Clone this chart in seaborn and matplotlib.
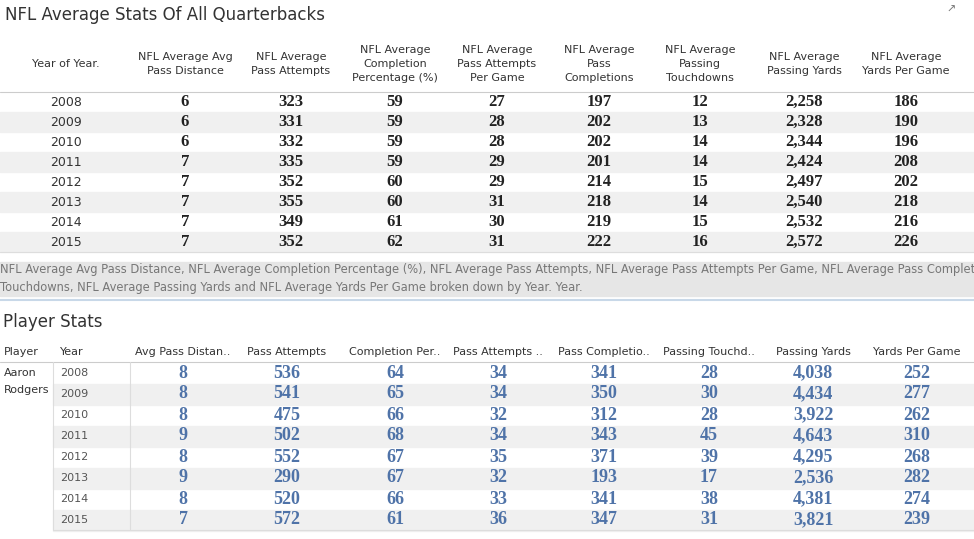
import matplotlib
matplotlib.use("Agg")
import matplotlib.pyplot as plt
import seaborn as sns

sns.set_style("white")
plt.rcParams['font.family'] = ['DejaVu Sans']

years = [2008, 2009, 2010, 2011, 2012, 2013, 2014, 2015]
top_headers = ["Year of Year.", "NFL Average Avg\nPass Distance", "NFL Average\nPass Attempts",
               "NFL Average\nCompletion\nPercentage (%)", "NFL Average\nPass Attempts\nPer Game",
               "NFL Average\nPass\nCompletions", "NFL Average\nPassing\nTouchdowns",
               "NFL Average\nPassing Yards", "NFL Average\nYards Per Game"]
avg_dist = [6, 6, 6, 7, 7, 7, 7, 7]
avg_att = [323, 331, 332, 335, 352, 355, 349, 352]
avg_pct = [59, 59, 59, 59, 60, 60, 61, 62]
avg_att_g = [27, 28, 28, 29, 29, 31, 30, 31]
avg_comp = [197, 202, 202, 201, 214, 218, 219, 222]
avg_td = [12, 13, 14, 14, 15, 14, 15, 16]
avg_yds = [2258, 2328, 2344, 2424, 2497, 2540, 2532, 2572]
avg_ypg = [186, 190, 196, 208, 202, 218, 216, 226]

bot_headers = ["Avg Pass Distan..", "Pass Attempts", "Completion Per..", "Pass Attempts ..",
               "Pass Completio..", "Passing Touchd..", "Passing Yards", "Yards Per Game"]
p_dist = [8, 8, 8, 9, 8, 9, 8, 7]
p_att = [536, 541, 475, 502, 552, 290, 520, 572]
p_pct = [64, 65, 66, 68, 67, 67, 66, 61]
p_att_g = [34, 34, 32, 34, 35, 32, 33, 36]
p_comp = [341, 350, 312, 343, 371, 193, 341, 347]
p_td = [28, 30, 28, 45, 39, 17, 38, 31]
p_yds = [4038, 4434, 3922, 4643, 4295, 2536, 4381, 3821]
p_ypg = [252, 277, 262, 310, 268, 282, 274, 239]

caption = ("NFL Average Avg Pass Distance, NFL Average Completion Percentage (%), NFL Average Pass Attempts, NFL Average Pass Attempts Per Game, NFL Average Pass Completions,\n"
           "Touchdowns, NFL Average Passing Yards and NFL Average Yards Per Game broken down by Year. Year.")

fig = plt.figure(figsize=(9.74, 5.39), dpi=100)
ax = fig.add_axes([0, 0, 1, 1])
ax.set_xlim(0, 974)
ax.set_ylim(539, 0)
ax.axis("off")

hdr_col = "#333333"
serif = "Liberation Serif"

# top table
ax.text(5, 15, "NFL Average Stats Of All Quarterbacks", fontsize=12, color="#333333", va="center")
ax.text(946, 10, "\u2197", fontsize=8, color="#777777", va="center")
top_x = [66, 185, 291, 395, 497, 599, 700, 804, 906]
for x, h in zip(top_x, top_headers):
    ax.text(x, 64, h, ha="center", va="center", fontsize=8, color=hdr_col, linespacing=1.45)
ax.plot([0, 974], [92, 92], color="#cccccc", lw=0.8)
top_cols = [avg_dist, avg_att, avg_pct, avg_att_g, avg_comp, avg_td, avg_yds, avg_ypg]
for i, yr in enumerate(years):
    y = 102 + i * 20
    if i % 2 == 1:
        ax.axhspan(y - 10, y + 10, color="#f0f0f0", zorder=0)
    ax.text(top_x[0], y, str(yr), ha="center", va="center", fontsize=9, color="#333333")
    for x, col in zip(top_x[1:], top_cols):
        ax.text(x, y, f"{col[i]:,}", ha="center", va="center", fontsize=12,
                fontweight="bold", family=serif, color="#222222")
ax.plot([0, 974], [252, 252], color="#dddddd", lw=0.8)

# caption band
ax.axhspan(262, 296, color="#e6e6e6", zorder=0)
ax.text(0, 279, caption, va="center", fontsize=8.3, color="#777777", linespacing=1.5)
ax.plot([0, 974], [300, 300], color="#c8d8e8", lw=1.5)

# bottom table
ax.text(3, 322, "Player Stats", fontsize=12, color="#333333", va="center")
ax.text(4, 352, "Player", fontsize=8, color=hdr_col, va="center")
ax.text(60, 352, "Year", fontsize=8, color=hdr_col, va="center")
bot_x = [183, 287, 395, 498, 604, 709, 813, 917]
for x, h in zip(bot_x, bot_headers):
    ax.text(x, 352, h, ha="center", va="center", fontsize=8, color=hdr_col)
ax.plot([0, 974], [362, 362], color="#cccccc", lw=0.8)
ax.plot([130, 130], [362, 530], color="#dddddd", lw=0.8)
ax.plot([53, 53], [362, 530], color="#dddddd", lw=0.8)
ax.text(4, 373, "Aaron", fontsize=8, color=hdr_col, va="center")
ax.text(4, 390, "Rodgers", fontsize=8, color=hdr_col, va="center")
bot_cols = [p_dist, p_att, p_pct, p_att_g, p_comp, p_td, p_yds, p_ypg]
for i, yr in enumerate(years):
    y = 373 + i * 21
    if i % 2 == 1:
        ax.axhspan(y - 10.5, y + 10.5, xmin=53 / 974, color="#f0f0f0", zorder=0)
    ax.text(60, y, str(yr), va="center", fontsize=8, color="#555555")
    for x, col in zip(bot_x, bot_cols):
        ax.text(x, y, f"{col[i]:,}", ha="center", va="center", fontsize=13,
                fontweight="bold", family=serif, color="#4f73a8")
ax.plot([53, 974], [530, 530], color="#dddddd", lw=0.8)

fig.savefig("out.png", dpi=100)
